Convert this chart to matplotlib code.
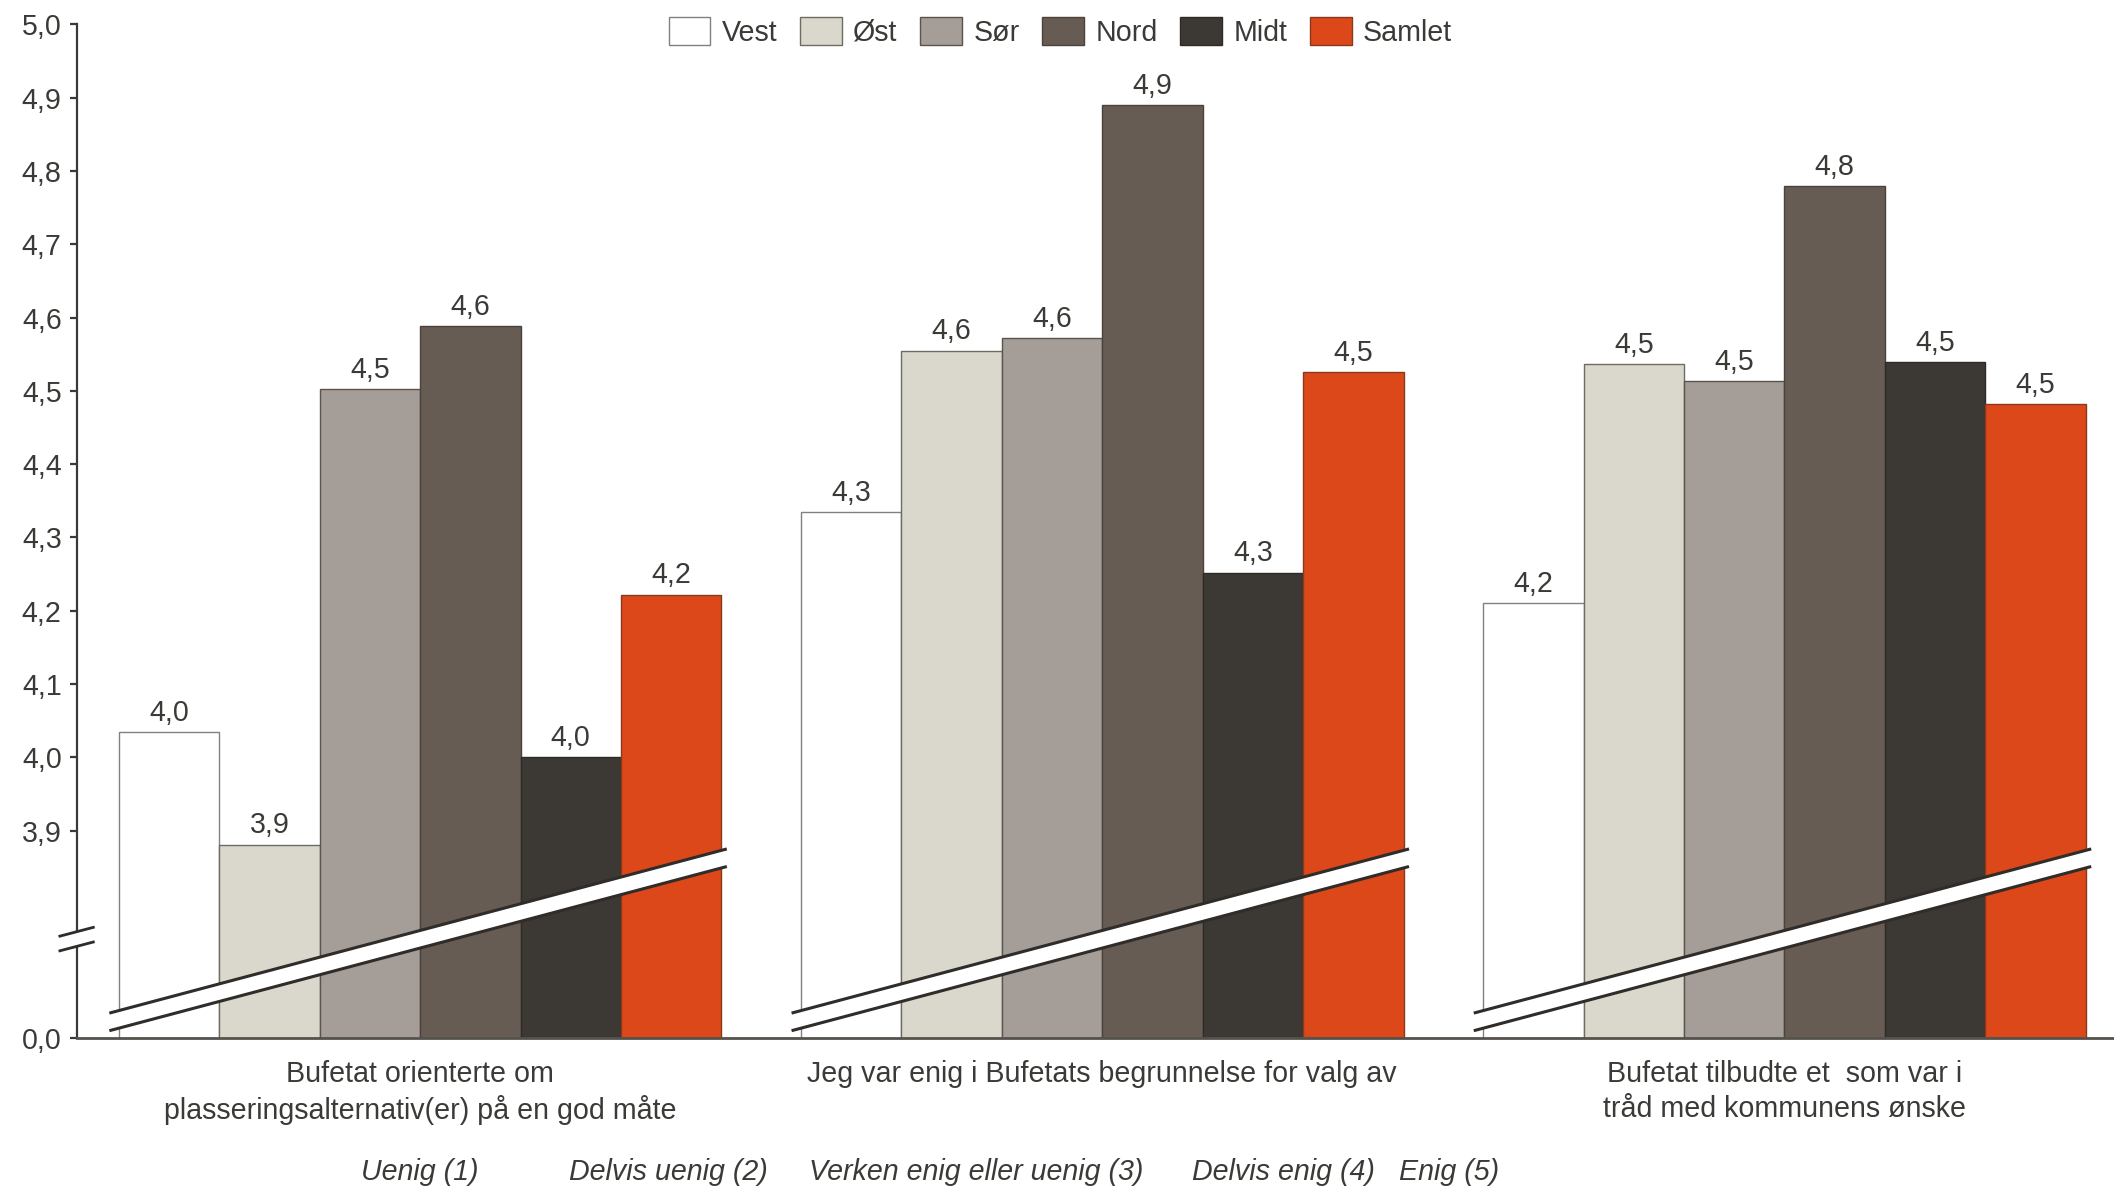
import matplotlib.pyplot as plt
from matplotlib.patches import Polygon

plt.rcParams['font.family'] = ['Liberation Sans', 'DejaVu Sans']

# data
grupper = ["Bufetat orienterte om\nplasseringsalternativ(er) på en god måte",
           "Jeg var enig i Bufetats begrunnelse for valg av",
           "Bufetat tilbudte et  som var i\ntråd med kommunens ønske"]
regioner = ["Vest", "Øst", "Sør", "Nord", "Midt", "Samlet"]
vest = [4.035, 4.335, 4.211]
ost = [3.881, 4.555, 4.537]
sor = [4.502, 4.572, 4.513]
nord = [4.588, 4.890, 4.779]
midt = [4.000, 4.252, 4.539]
samlet = [4.222, 4.526, 4.482]
skala = ["Uenig (1)", "Delvis uenig (2)", "Verken enig eller uenig (3)",
         "Delvis enig (4)", "Enig (5)"]
yticks = [3.9, 4.0, 4.1, 4.2, 4.3, 4.4, 4.5, 4.6, 4.7, 4.8, 4.9, 5.0]

serier = [vest, ost, sor, nord, midt, samlet]
farger = ['#ffffff', '#dad8cc', '#a59d97', '#665c53', '#3c3833', '#dc4819']
kanter = ['#808080', '#6e6b62', '#5a534d', '#4a423b', '#2e2b27', '#8a3a1c']
tekst = '#3b3a36'
fs = 10.3

fig = plt.figure(figsize=(10.57, 5.935), dpi=200)
ax = fig.add_axes([0.0364, 0.1255, 0.9636, 0.854])

ymin = 3.617
w = 0.1472
for i, (navn, verdier) in enumerate(zip(regioner, serier)):
    xs = [g + (i - 2.5) * w for g in range(len(grupper))]
    ax.bar(xs, verdier, width=w, color=farger[i], edgecolor=kanter[i],
           linewidth=0.5, label=navn, zorder=2)
    for x, v in zip(xs, verdier):
        ax.annotate(f"{v:.1f}".replace('.', ','), (x, v), xytext=(0, 4),
                    textcoords='offset points', ha='center', va='baseline',
                    fontsize=fs, color=tekst)

# brudd-bånd over hver gruppe
for g in range(len(grupper)):
    x0, x1 = g - 0.4555, g + 0.4496
    ax.add_patch(Polygon([(x0, 3.651), (x1, 3.875), (x1, 3.851), (x0, 3.627)],
                         closed=True, facecolor='white', edgecolor='none', zorder=3))
    ax.plot([x0, x1], [3.651, 3.875], color='#2f2c29', lw=1.1, zorder=4,
            solid_capstyle='butt')
    ax.plot([x0, x1], [3.627, 3.851], color='#2f2c29', lw=1.1, zorder=4,
            solid_capstyle='butt')

# brudd på y-aksen
bx0, bx1 = -0.528, -0.479
ax.add_patch(Polygon([(bx0, 3.756), (bx1, 3.768), (bx1, 3.748), (bx0, 3.736)],
                     closed=True, facecolor='white', edgecolor='none', zorder=5,
                     clip_on=False))
ax.plot([bx0, bx1], [3.756, 3.768], color='#2f2c29', lw=1.0, zorder=6, clip_on=False)
ax.plot([bx0, bx1], [3.736, 3.748], color='#2f2c29', lw=1.0, zorder=6, clip_on=False)

ax.set_xlim(-0.503, 2.483)
ax.set_ylim(ymin, 5.0)
ax.set_yticks([ymin] + yticks,
              ["0,0"] + [f"{t:.1f}".replace('.', ',') for t in yticks])
ax.set_xticks(range(len(grupper)), grupper, linespacing=1.3)
ax.tick_params(axis='x', length=0, pad=8, labelsize=fs, labelcolor=tekst)
ax.tick_params(axis='y', length=2.5, width=0.8, color='#3b3a36', pad=3,
               labelsize=fs, labelcolor=tekst)

for s in ['top', 'right']:
    ax.spines[s].set_visible(False)
ax.spines['left'].set_color('#3b3a36')
ax.spines['left'].set_linewidth(0.8)
ax.spines['bottom'].set_color('#55524d')
ax.spines['bottom'].set_linewidth(1.0)

fig.legend(loc='center', bbox_to_anchor=(0.5016, 0.973), ncol=6, frameon=False,
           fontsize=fs, labelcolor=tekst, handlelength=1.45, handleheight=1.1,
           handletextpad=0.4, columnspacing=0.8)

# svarskala
for x, t in zip([0.1709, 0.2691, 0.3826, 0.5638, 0.662], skala):
    fig.text(x, 0.0125, t, style='italic', fontsize=fs, color=tekst,
             ha='left', va='center')

fig.savefig('out.png', dpi=200)
